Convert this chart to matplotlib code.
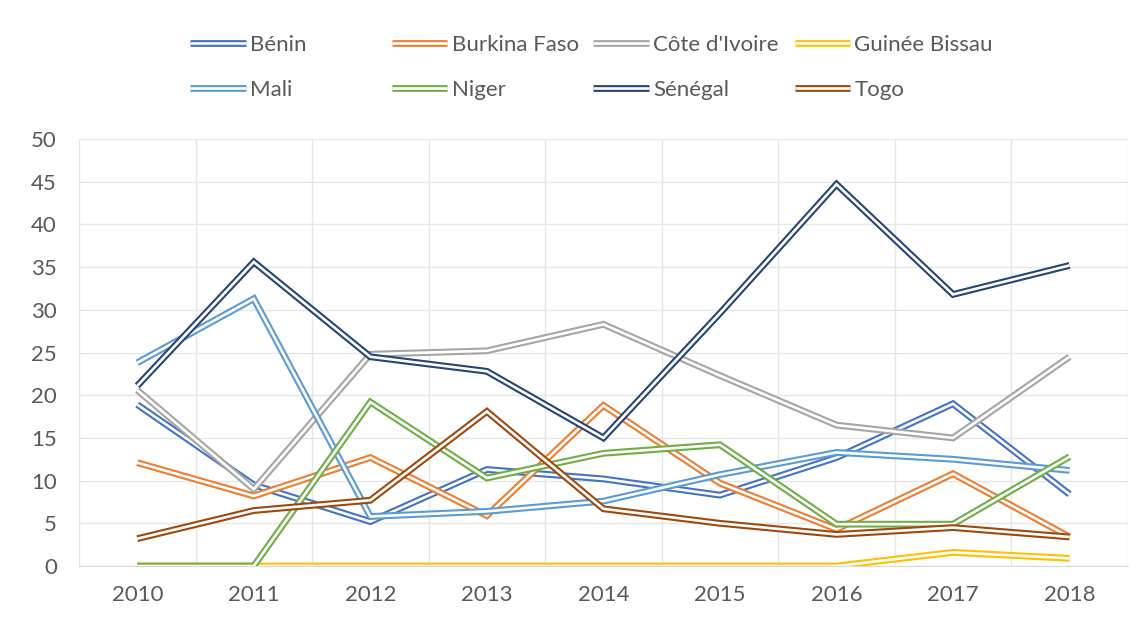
import numpy as np
import matplotlib
matplotlib.use('Agg')
import matplotlib.pyplot as plt
import matplotlib.patheffects as pe

# valeurs
years = [2010, 2011, 2012, 2013, 2014, 2015, 2016, 2017, 2018]
benin = [18.9, 9.5, 5.2, 11.3, 10.2, 8.3, 12.7, 19.0, 8.4]
burkina = [12.1, 8.2, 12.7, 5.9, 18.8, 9.7, 4.3, 10.8, 3.4]
cote = [20.6, 9.0, 24.8, 25.2, 28.3, 22.3, 16.5, 15.0, 24.5]
guinee = [0.0, 0.0, 0.0, 0.0, 0.0, 0.0, 0.0, 1.6, 0.9]
mali = [23.8, 31.3, 5.8, 6.4, 7.6, 10.7, 13.3, 12.5, 11.2]
niger = [0.0, 0.0, 19.2, 10.3, 13.2, 14.2, 4.9, 4.9, 12.8]
senegal = [21.1, 35.6, 24.5, 22.8, 15.0, 29.6, 44.7, 31.8, 35.2]
togo = [3.2, 6.5, 7.7, 18.1, 6.7, 5.0, 3.7, 4.5, 3.4]

names = ['Bénin', 'Burkina Faso', "Côte d'Ivoire", 'Guinée Bissau',
         'Mali', 'Niger', 'Sénégal', 'Togo']
series = [benin, burkina, cote, guinee, mali, niger, senegal, togo]
colors = ['#4472C4', '#ED7D31', '#A5A5A5', '#FFC000',
          '#5B9BD5', '#70AD47', '#264478', '#9E480E']

plt.rcParams['font.family'] = ['Lato', 'DejaVu Sans']

fig = plt.figure(figsize=(11.45, 6.22), dpi=100)
ax = fig.add_axes([0.069, 0.090, 0.916, 0.6865])

x = np.arange(len(years))
lines = []
for name, vals, c in zip(names, series, colors):
    ln, = ax.plot(x, vals, color='white', lw=1.9, label=name,
                  solid_joinstyle='miter', solid_capstyle='butt')
    ln.set_path_effects([pe.Stroke(linewidth=4.9, foreground=c), pe.Normal()])
    lines.append(ln)

ax.set_xlim(-0.5, len(years) - 0.5)
ax.set_ylim(0, 50)
ax.set_yticks(np.arange(0, 51, 5))
ax.set_xticks(x)
ax.set_xticklabels([str(y) for y in years])
ax.set_xticks(np.arange(-0.5, len(years), 1), minor=True)

ax.grid(axis='y', color='#E6E6E6', lw=1)
ax.grid(axis='x', which='minor', color='#E6E6E6', lw=1)
ax.set_axisbelow(True)
for s in ['top', 'right', 'left']:
    ax.spines[s].set_visible(False)
ax.spines['bottom'].set_color('#D9D9D9')
ax.tick_params(which='both', length=0, labelsize=16, labelcolor='#595959')
ax.tick_params(axis='x', pad=14)
ax.tick_params(axis='y', pad=16)

# légende : 2 lignes x 4 colonnes de largeur égale, comme Excel
for i, ln in enumerate(lines):
    col, row = i % 4, i // 4
    lx = (190 + 201.5 * col) / 1145
    ly = 1 - (45 + 45 * row) / 622
    fig.legend(handles=[ln], loc='center left', bbox_to_anchor=(lx, ly),
               frameon=False, fontsize=16, labelcolor='#595959',
               handlelength=2.5, handletextpad=0.2, borderpad=0,
               borderaxespad=0)

fig.savefig('out.png', dpi=100)
